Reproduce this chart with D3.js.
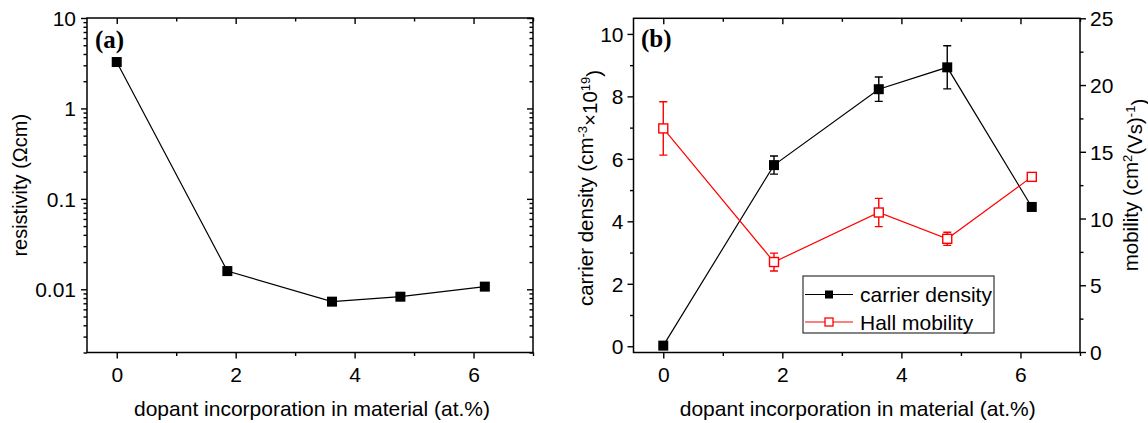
<!DOCTYPE html>
<html>
<head>
<meta charset="utf-8">
<script src="https://cdn.jsdelivr.net/npm/d3@7"></script>
<style>
  html, body { margin: 0; padding: 0; background: #fff; }
  svg { display: block; }
  text { font-family: "Liberation Sans", Arial, sans-serif; fill: #000; }
</style>
</head>
<body>
<svg id="chart" width="1148" height="423"></svg>
<script>
// Dopant incorporation (at.%) of the five samples
const dopant = [0, 1.86, 3.62, 4.77, 6.19];

// Panel (a): resistivity (Ohm cm)
const resistivity = [3.26, 0.0159, 0.0073, 0.00828, 0.0107];

// Panel (b): carrier density (1e19 cm^-3) and Hall mobility (cm^2/Vs) with errors
const carrierDensity = [0.02, 5.80, 8.23, 8.93, 4.46];
const carrierErr = [0, 0.29, 0.39, 0.69, 0];
const hallMobility = [16.75, 6.74, 10.45, 8.48, 13.12];
const mobilityErr = [2.0, 0.67, 1.06, 0.49, 0.26];

// Tick values
const xMajor = [0, 2, 4, 6];
const xMinor = [1, 3, 5];
const rhoMajor = [0.01, 0.1, 1, 10];
const rhoLabels = ["0.01", "0.1", "1", "10"];
const densityMajor = [0, 2, 4, 6, 8, 10];
const densityMinor = [1, 3, 5, 7, 9];
const mobilityMajor = [0, 5, 10, 15, 20, 25];
const mobilityMinor = [2.5, 7.5, 12.5, 17.5, 22.5];

const svg = d3.select("#chart");
const TICK = 6, MINOR = 3.5, FS = 21;

function logMinorTicks(lo, hi) {
  const out = [];
  for (let e = -3; e <= 1; e++) {
    for (let m = 2; m <= 9; m++) {
      const v = m * Math.pow(10, e);
      if (v >= lo && v <= hi) out.push(v);
    }
  }
  return out;
}

function frameAxes(g, axisGen, transform, values, size, withLabels, fmt) {
  const a = axisGen.tickValues(values).tickSize(size).tickSizeOuter(0);
  a.tickFormat(withLabels ? (fmt || (d => d)) : () => "");
  const sel = g.append("g").attr("transform", transform).call(a);
  sel.select(".domain").remove();
  sel.selectAll(".tick line").attr("stroke", "#000").attr("stroke-width", 1.4);
  sel.selectAll("text").style("font-size", FS + "px").attr("fill", "#000");
  return sel;
}

function squareMarks(g, pts, size, fill, stroke) {
  g.selectAll(null).data(pts).join("rect")
    .attr("x", d => d[0] - size / 2).attr("y", d => d[1] - size / 2)
    .attr("width", size).attr("height", size)
    .attr("fill", fill).attr("stroke", stroke).attr("stroke-width", fill === "#fff" ? 1.4 : 0);
}

// ---------- Panel (a) ----------
{
  const L = 87, R = 533, T = 18, B = 352.5;
  const x = d3.scaleLinear().domain([-0.5, 7]).range([L, R]);
  const y = d3.scaleLog().domain([0.002, 10]).range([B, T]);
  const g = svg.append("g");
  const minor = logMinorTicks(0.002, 10);
  const xm = xMinor.concat([7]);

  // bottom (outward, labelled), top (inward)
  const bx = frameAxes(g, d3.axisBottom(x), `translate(0,${B})`, xMajor, TICK, true);
  bx.selectAll("text").attr("y", 0).attr("dy", 0).attr("transform", "translate(0,29)");
  frameAxes(g, d3.axisBottom(x), `translate(0,${B})`, xm, MINOR, false);
  frameAxes(g, d3.axisTop(x), `translate(0,${T})`, xMajor, -TICK, false);
  frameAxes(g, d3.axisTop(x), `translate(0,${T})`, xm, -MINOR, false);

  // left (outward, labelled), right (inward)
  const ly = frameAxes(g, d3.axisLeft(y), `translate(${L},0)`, rhoMajor, TICK, true, d => rhoLabels[rhoMajor.indexOf(d)]);
  ly.selectAll("text").attr("x", -11).attr("dy", "0.36em");
  frameAxes(g, d3.axisLeft(y), `translate(${L},0)`, minor, MINOR, false);
  frameAxes(g, d3.axisRight(y), `translate(${R},0)`, rhoMajor, -TICK, false);
  frameAxes(g, d3.axisRight(y), `translate(${R},0)`, minor, -MINOR, false);

  g.append("rect").attr("x", L).attr("y", T).attr("width", R - L).attr("height", B - T)
    .attr("fill", "none").attr("stroke", "#000").attr("stroke-width", 1.5);

  const pts = dopant.map((d, i) => [x(d), y(resistivity[i])]);
  g.append("path").attr("d", d3.line()(pts)).attr("fill", "none").attr("stroke", "#000").attr("stroke-width", 1.2);
  squareMarks(g, pts, 10, "#000", "none");

  g.append("text").attr("x", 95).attr("y", 48)
    .style("font-family", "'Liberation Serif', 'Times New Roman', serif")
    .style("font-weight", "bold").style("font-size", "25px").text("(a)");

  g.append("text").attr("x", (L + R) / 2 + 2).attr("y", 416).attr("text-anchor", "middle")
    .style("font-size", FS + "px").text("dopant incorporation in material (at.%)");
  g.append("text").attr("transform", `translate(27,${(T + B) / 2}) rotate(-90)`)
    .attr("text-anchor", "middle").style("font-size", "20px").text("resistivity (Ωcm)");
}

// ---------- Panel (b) ----------
{
  const L = 633.5, R = 1080, T = 18.3, B = 352.5;
  const x = d3.scaleLinear().domain([-0.5, 7]).range([L, R]);
  const y = d3.scaleLinear().domain([-0.2, 10.5]).range([B, T]);
  const y2 = d3.scaleLinear().domain([0, 25]).range([B - 0.5, T]);
  const g = svg.append("g");
  const xm = xMinor.concat([7]);

  const bx = frameAxes(g, d3.axisBottom(x), `translate(0,${B})`, xMajor, TICK, true);
  bx.selectAll("text").attr("y", 0).attr("dy", 0).attr("transform", "translate(0,29)");
  frameAxes(g, d3.axisBottom(x), `translate(0,${B})`, xm, MINOR, false);
  frameAxes(g, d3.axisTop(x), `translate(0,${T})`, xMajor, -TICK, false);
  frameAxes(g, d3.axisTop(x), `translate(0,${T})`, xm, -MINOR, false);

  const ly = frameAxes(g, d3.axisLeft(y), `translate(${L},0)`, densityMajor, TICK, true);
  ly.selectAll("text").attr("x", -10).attr("dy", "0.36em");
  frameAxes(g, d3.axisLeft(y), `translate(${L},0)`, densityMinor, MINOR, false);

  const ry = frameAxes(g, d3.axisRight(y2), `translate(${R},0)`, mobilityMajor, TICK, true);
  ry.selectAll("text").attr("x", 10).attr("dy", "0.36em");
  frameAxes(g, d3.axisRight(y2), `translate(${R},0)`, mobilityMinor, MINOR, false);

  g.append("rect").attr("x", L).attr("y", T).attr("width", R - L).attr("height", B - T)
    .attr("fill", "none").attr("stroke", "#000").attr("stroke-width", 1.5);

  function errorBars(vals, errs, scale, color) {
    const cap = 4;
    dopant.forEach((d, i) => {
      if (!errs[i]) return;
      const cx = x(d), y0 = scale(vals[i] - errs[i]), y1 = scale(vals[i] + errs[i]);
      const p = `M${cx},${y0}V${y1}M${cx - cap},${y0}H${cx + cap}M${cx - cap},${y1}H${cx + cap}`;
      g.append("path").attr("d", p).attr("fill", "none").attr("stroke", color).attr("stroke-width", 1.4);
    });
  }

  // carrier density (left axis)
  const cPts = dopant.map((d, i) => [x(d), y(carrierDensity[i])]);
  errorBars(carrierDensity, carrierErr, y, "#000");
  g.append("path").attr("d", d3.line()(cPts)).attr("fill", "none").attr("stroke", "#000").attr("stroke-width", 1.2);
  squareMarks(g, cPts, 10, "#000", "none");

  // Hall mobility (right axis)
  const mPts = dopant.map((d, i) => [x(d), y2(hallMobility[i])]);
  errorBars(hallMobility, mobilityErr, y2, "#f00");
  g.append("path").attr("d", d3.line()(mPts)).attr("fill", "none").attr("stroke", "#f00").attr("stroke-width", 1.2);
  squareMarks(g, mPts, 9, "#fff", "#f00");

  g.append("text").attr("x", 641).attr("y", 47)
    .style("font-family", "'Liberation Serif', 'Times New Roman', serif")
    .style("font-weight", "bold").style("font-size", "25px").text("(b)");

  g.append("text").attr("x", (L + R) / 2 + 1).attr("y", 416).attr("text-anchor", "middle")
    .style("font-size", FS + "px").text("dopant incorporation in material (at.%)");

  const t1 = g.append("text").attr("transform", `translate(593,188) rotate(-90)`)
    .attr("text-anchor", "middle").style("font-size", "20.5px");
  t1.append("tspan").text("carrier density (cm");
  t1.append("tspan").attr("dy", "-0.5em").style("font-size", "13px").text("-3");
  t1.append("tspan").attr("dy", "0.5em").text("×10");
  t1.append("tspan").attr("dy", "-0.5em").style("font-size", "13px").text("19");
  t1.append("tspan").attr("dy", "0.5em").text(")");

  const t2 = g.append("text").attr("transform", `translate(1138,185) rotate(-90)`)
    .attr("text-anchor", "middle").style("font-size", "20.5px");
  t2.append("tspan").text("mobility (cm");
  t2.append("tspan").attr("dy", "-0.5em").style("font-size", "13px").text("2");
  t2.append("tspan").attr("dy", "0.5em").text("(Vs)");
  t2.append("tspan").attr("dy", "-0.5em").style("font-size", "13px").text("-1");
  t2.append("tspan").attr("dy", "0.5em").text(")");

  // legend
  const lg = g.append("g");
  lg.append("rect").attr("x", 803).attr("y", 276).attr("width", 191).attr("height", 57)
    .attr("fill", "#fff").attr("stroke", "#333").attr("stroke-width", 1.2);
  const rows = [
    { label: "carrier density", color: "#000", fill: "#000", cy: 294.5 },
    { label: "Hall mobility", color: "#f00", fill: "#fff", cy: 322 }
  ];
  rows.forEach(r => {
    lg.append("line").attr("x1", 805).attr("x2", 853).attr("y1", r.cy).attr("y2", r.cy)
      .attr("stroke", r.color).attr("stroke-width", 1.2);
    lg.append("rect").attr("x", 829 - 4).attr("y", r.cy - 4).attr("width", 8).attr("height", 8)
      .attr("fill", r.fill).attr("stroke", r.fill === "#fff" ? r.color : "none").attr("stroke-width", 1.3);
    lg.append("text").attr("x", 860).attr("y", r.cy + 7.5).style("font-size", "21px").text(r.label);
  });
}
</script>
</body>
</html>
